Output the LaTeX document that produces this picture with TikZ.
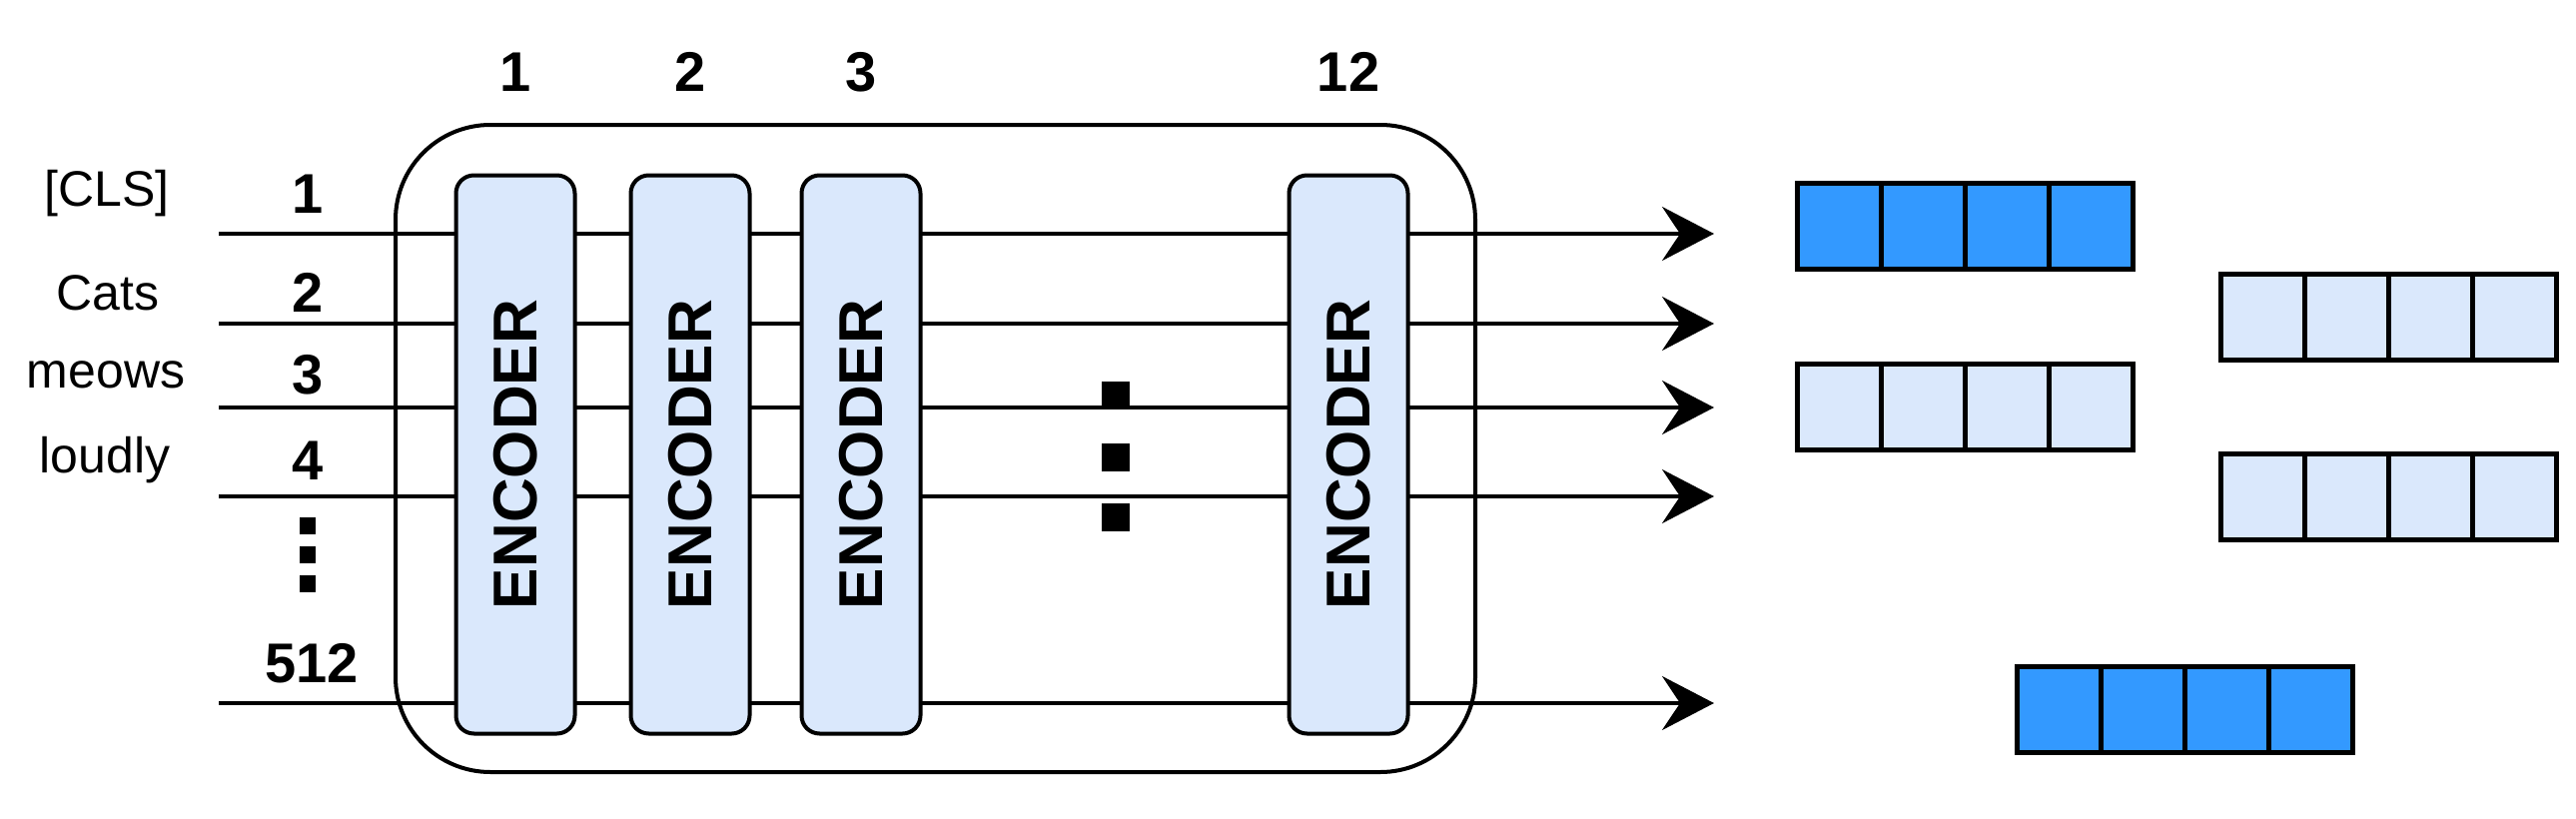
\documentclass[tikz,border=0pt]{standalone}
\usepackage{fontspec}
\setmainfont{Liberation Sans}
\usetikzlibrary{arrows.meta}
\definecolor{dk}{HTML}{3399FF}
\definecolor{lt}{HTML}{DAE8FC}
\begin{document}
\begin{tikzpicture}[x=1pt,y=-1pt,
  enc/.style={draw,line width=4pt,fill=lt,rounded corners=18pt,minimum width=119pt,minimum height=559pt,inner sep=0pt},
  enctext/.style={rotate=90,font=\bfseries\fontsize{62}{62}\selectfont},
  lbl/.style={font=\bfseries\fontsize{56}{56}\selectfont},
  wrd/.style={font=\fontsize{50}{50}\selectfont},
  ln/.style={line width=4pt},
  arr/.style={line width=4pt,-{Stealth[length=52pt,width=54pt,inset=18pt]}},
  cell/.style={draw,line width=5pt,minimum width=84pt,minimum height=86pt,inner sep=0pt,anchor=west},
  dot/.style={fill=black,minimum width=28pt,minimum height=28pt,inner sep=0pt}]
\useasboundingbox (0,0) rectangle (2579,819);
% input lines and outputs
\foreach \y/\n in {234/a,324/b,408/c,497/d,704/e}{
  \coordinate (s\n) at (219,\y);
  \coordinate (t\n) at (1716,\y);
  \draw[arr] (s\n) -- (t\n);
}
% outer box
\draw[line width=4pt,rounded corners=95pt] (396,125) rectangle (1477,773);
% encoders
\foreach \x/\n in {516/1,691/2,862/3,1350/12}{
  \node[enc] (enc\n) at (\x,455) {};
  \node[enctext] at (enc\n.center) {ENCODER};
  \node[lbl] (top\n) at (\x,72) {\n};
}
% left words
\node[wrd] (w1) at (107,194) {[CLS]};
\node[wrd] (w2) at (108,293) {Cats};
\node[wrd] (w3) at (106,375) {meows};
\node[wrd] (w4) at (105,461) {loudly};
\node[lbl] (n1) at (308,194) {1};
\node[lbl] (n2) at (308,293) {2};
\node[lbl] (n3) at (308,375) {3};
\node[lbl] (n4) at (308,461) {4};
\node[lbl] (n512) at (312,664) {512};
\foreach \y/\i in {526/1,555/2,584/3}{\node[fill=black,minimum width=16pt,minimum height=17pt,inner sep=0pt] (ld\i) at (308,\y) {};}
% middle dots
\node[dot] (md1) at (1117,396) {};
\node[dot] (md2) at (1117,458) {};
\node[dot] (md3) at (1117,518) {};
% output vectors
\foreach \x/\y/\c/\n in {1797/226/dk/a,2221/317/lt/b,1797/407/lt/c,2221/497/lt/d,2017/710/dk/e}{
  \foreach \k in {0,1,2,3}{
    \node[cell,fill=\c] (v\n\k) at (\x+\k*84,\y) {};
  }
}
\end{tikzpicture}
\end{document}
